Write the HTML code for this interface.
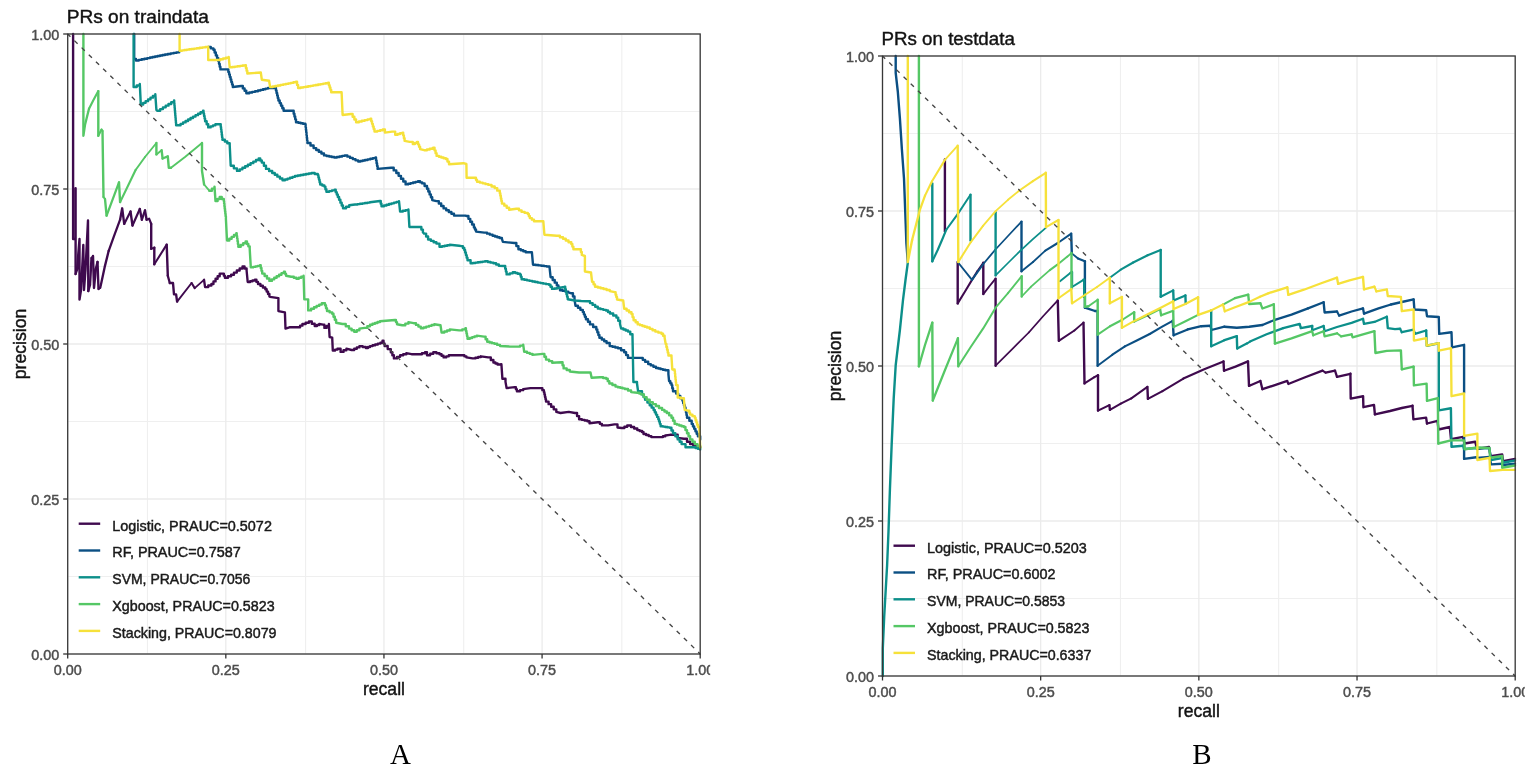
<!DOCTYPE html>
<html><head><meta charset="utf-8"><title>PR curves</title>
<style>
html,body{margin:0;padding:0;background:#fff;}
body{width:1535px;height:772px;overflow:hidden;}
svg{display:block;}
.gm{stroke:#efefef;stroke-width:1.1;}
.gM{stroke:#ebebeb;stroke-width:1.3;}
.cv{fill:none;stroke-linejoin:round;stroke-linecap:round;}
.dg{stroke:#454545;stroke-width:1.35;stroke-dasharray:4.4 5.64;stroke-dashoffset:0.6;}
.lk{stroke-width:2.4;}
.bd{fill:none;stroke:#383838;stroke-width:1.3;}
.tk{stroke:#333;stroke-width:1.3;}
text{font-family:"Liberation Sans",Arial,sans-serif;stroke-width:0.45px;}
.lt,.at,.ti{stroke:#1a1a1a;}
.xl,.yl{stroke:#4d4d4d;}
.pl{stroke:none;}
.lt{font-size:14.4px;fill:#1a1a1a;}
.xl{font-size:14.4px;fill:#4d4d4d;text-anchor:middle;}
.yl{font-size:14.4px;fill:#4d4d4d;text-anchor:end;}
.at{font-size:17.6px;fill:#111;text-anchor:middle;}
.ti{font-size:19.1px;fill:#111;}
.pl{font-family:"Liberation Serif","Times New Roman",serif;font-size:29px;fill:#000;text-anchor:middle;}
</style></head>
<body>
<svg width="1535" height="772" viewBox="0 0 1535 772">
<rect width="1535" height="772" fill="#fff"/>
<line x1="147.46" y1="34" x2="147.46" y2="654" class="gm"/>
<line x1="67.7" y1="576.5" x2="700.2" y2="576.5" class="gm"/>
<line x1="305.59" y1="34" x2="305.59" y2="654" class="gm"/>
<line x1="67.7" y1="421.5" x2="700.2" y2="421.5" class="gm"/>
<line x1="463.71" y1="34" x2="463.71" y2="654" class="gm"/>
<line x1="67.7" y1="266.5" x2="700.2" y2="266.5" class="gm"/>
<line x1="621.84" y1="34" x2="621.84" y2="654" class="gm"/>
<line x1="67.7" y1="111.5" x2="700.2" y2="111.5" class="gm"/>
<line x1="67.7" y1="34" x2="67.7" y2="654" class="gM"/>
<line x1="67.7" y1="654" x2="700.2" y2="654" class="gM"/>
<line x1="225.82" y1="34" x2="225.82" y2="654" class="gM"/>
<line x1="67.7" y1="499" x2="700.2" y2="499" class="gM"/>
<line x1="383.95" y1="34" x2="383.95" y2="654" class="gM"/>
<line x1="67.7" y1="344" x2="700.2" y2="344" class="gM"/>
<line x1="542.08" y1="34" x2="542.08" y2="654" class="gM"/>
<line x1="67.7" y1="189" x2="700.2" y2="189" class="gM"/>
<line x1="700.2" y1="34" x2="700.2" y2="654" class="gM"/>
<line x1="67.7" y1="34" x2="700.2" y2="34" class="gM"/>
<g stroke="#3f0a4e" class="cv">
<polyline points="73.1,34 73.1,239 75.6,239 75.6,188.3 75.6,274" stroke-width="2.40"/>
<polyline points="75.6,274 77,270" stroke-width="2.27"/>
<polyline points="77,270 79.5,239 79.5,299.5 81,290 82.5,262 83.3,245 84,290 85.5,270 88,220.5 88.3,291" stroke-width="2.39"/>
<polyline points="88.3,291 90,285" stroke-width="2.31"/>
<polyline points="90,285 91.5,258" stroke-width="2.40"/>
<polyline points="91.5,258 93,256" stroke-width="1.92"/>
<polyline points="93,256 94,288 96,268" stroke-width="2.40"/>
<polyline points="96,268 97.5,262" stroke-width="2.33"/>
<polyline points="97.5,262 98.5,289" stroke-width="2.40"/>
<polyline points="98.5,289 100.2,287.7" stroke-width="1.91"/>
<polyline points="100.2,287.7 101.5,281.9 104.6,267.4 108.7,250.8" stroke-width="2.34"/>
<polyline points="108.7,250.8 113.9,236.3 120.1,219.7" stroke-width="2.26"/>
<polyline points="120.1,219.7 122.2,208.3 124.2,223.9" stroke-width="2.36"/>
<polyline points="124.2,223.9 130.5,211.5" stroke-width="2.14"/>
<polyline points="130.5,211.5 132.5,225.5" stroke-width="2.38"/>
<polyline points="132.5,225.5 139.8,209" stroke-width="2.19"/>
<polyline points="139.8,209 141.9,219.7" stroke-width="2.36"/>
<polyline points="141.9,219.7 145,210.4" stroke-width="2.28"/>
<polyline points="145,210.4 146.6,219.7" stroke-width="2.37"/>
<polyline points="146.6,219.7 149.1,218.7 151.2,223.9" stroke-width="2.23"/>
<polyline points="151.2,223.9 151.2,248.8" stroke-width="2.40"/>
<polyline points="151.2,248.8 154.3,247.7" stroke-width="2.26"/>
<polyline points="154.3,247.7 154.3,264.3" stroke-width="2.40"/>
<polyline points="154.3,264.3 166.7,244.6" stroke-width="2.03"/>
<polyline points="166.7,244.6 167.8,275.7" stroke-width="2.40"/>
<polyline points="167.8,275.7 169.8,283" stroke-width="2.31"/>
<polyline points="169.8,283 173,283 174,294.4 176.1,294.4 177.1,301.6" stroke-width="2.40"/>
<polyline points="177.1,301.6 191.6,283" stroke-width="1.89"/>
<polyline points="191.6,283 194.7,288.1" stroke-width="2.05"/>
<polyline points="194.7,288.1 204,279.8" stroke-width="1.79"/>
<polyline points="204,279.8 205.1,287.1 208.25,287.1 208.25,285.55 211.4,285.55 211.4,284 213.47,284 213.47,281.4 215.55,281.4 215.55,278.8 217.62,278.8 217.62,276.2 219.7,276.2 219.7,273.6 222.8,273.6 223.85,273.6 223.85,275.65 224.9,275.65 224.9,277.7 228,277.7 228,276.2 231.1,276.2 231.1,274.7 233.95,274.7 233.95,272.62 236.8,272.62 236.8,270.55 239.65,270.55 239.65,268.48 242.5,268.48 242.5,266.4 244.55,266.4 244.55,268.45 246.6,268.45 246.6,270.5 247.7,282 250.1,282 250.1,281.27 252.5,281.27 252.5,280.53 254.9,280.53 254.9,279.8 256.45,279.8 256.45,281.9 258,281.9 258,284 260.43,284 260.43,285.73 262.87,285.73 262.87,287.47 265.3,287.47 265.3,289.2 266.67,289.2 266.67,291.6 268.03,291.6 268.03,294 269.4,294 269.4,296.4 270,296.8 278.4,298.1 278.4,311.1 284.9,312.4 285.5,328.6 289.4,327.3 297.8,327.3 300.1,327.3 300.1,325.65 302.4,325.65 302.4,324 305.65,324 305.65,322.75 308.9,322.75 308.9,321.5 311.8,321.5 311.8,323.75 314.7,323.75 314.7,326 316.95,326 316.95,325 319.2,325 319.2,324 323.1,324.7 324.4,324.7 324.4,327.9 326.65,327.9 326.65,325.95 328.9,325.95 328.9,324 329.6,337 332.2,337.6 332.8,350.6 335.1,350.6 335.1,349.65 337.4,349.65 337.4,348.7 340.6,348.7 340.6,351.9 343.5,351.9 343.5,350.3 346.4,350.3 346.4,348.7 351.6,350 354.2,350 354.2,348.7 356.8,348.7 356.8,347.4 359.4,347.4 359.4,346.1 362.65,346.1 362.65,347.05 365.9,347.05 365.9,348 367.95,348 367.95,347.05 370,347.05 370,346.1 372.6,346.1 372.6,345.28 375.2,345.28 375.2,344.45 377.8,344.45 377.8,343.63 380.4,343.63 380.4,342.8 382.5,342.8 382.5,340.8 383.55,340.8 383.55,343.4 384.6,343.4 384.6,346 387.7,346 387.7,349.1 390.8,349.1 390.8,352.2 392.35,352.2 392.35,355.3 393.9,355.3 393.9,358.4 397,358.4 397,356.85 400.1,356.85 400.1,355.3 403.2,355.3 403.2,354.25 406.3,354.25 406.3,353.2 411.5,354.2 418.8,354.2 421.9,354.2 421.9,353.2 425,353.2 425,352.2 427,352.2 427,355.3 430.15,355.3 430.15,353.75 433.3,353.75 433.3,352.2 436.4,352.2 436.4,353.2 439.5,353.2 439.5,354.2 441.55,354.2 441.55,355.8 443.6,355.8 443.6,357.4 446.2,357.4 446.2,356.35 448.8,356.35 448.8,355.3 462.3,355.3 464.35,355.3 464.35,356.35 466.4,356.35 466.4,357.4 472.6,358.4 475.37,358.4 475.37,357.7 478.13,357.7 478.13,357 480.9,357 480.9,356.3 488.2,357.4 490.8,357.4 490.8,359.95 493.4,359.95 493.4,362.5 495.45,362.5 495.45,363.55 497.5,363.55 497.5,364.6 501.4,364.2 502.4,378.8 505.5,378.8 505.5,381.9 506.6,388.1 514.9,387.1 515.9,387.1 515.9,389.15 516.9,389.15 516.9,391.2 520.05,391.2 520.05,390.15 523.2,390.15 523.2,389.1 530.4,388.1 540.8,388.1 542.35,388.1 542.35,390.15 543.9,390.15 543.9,392.2 544.42,392.2 544.42,394.55 544.95,394.55 544.95,396.9 545.47,396.9 545.47,399.25 546,399.25 546,401.6 548.58,401.6 548.58,404.18 551.15,404.18 551.15,406.75 553.73,406.75 553.73,409.32 556.3,409.32 556.3,411.9 560.5,413 568.8,411.9 575,413 577.05,413 577.05,416.1 579.1,416.1 579.1,419.2 581.87,419.2 581.87,419.87 584.63,419.87 584.63,420.53 587.4,420.53 587.4,421.2 589.5,421.2 589.5,423.3 597.8,422.3 599.85,422.3 599.85,423.85 601.9,423.85 601.9,425.4 608.1,425.4 614.4,424.4 617.5,424.4 617.5,427.5 621.6,428 624.4,428 624.4,426.75 627.2,426.75 627.2,425.5 631,425.5 631,427 634.15,427 634.15,428.55 637.3,428.55 637.3,430.1 639.65,430.1 639.65,431.05 642,431.05 642,432 643.5,432 643.5,434 646.1,434 646.1,435.03 648.7,435.03 648.7,436.07 651.3,436.07 651.3,437.1 660.6,437.1 662.95,437.1 662.95,436.3 665.3,436.3 665.3,435.5 669.9,434.8 674.6,434.8 677.7,434.8 677.7,437.9 683.9,438.7 687,438.7 687,441.8 690.1,441.8 690.1,444.1 693.2,444.1 693.2,445.25 696.3,445.25 696.3,446.4 700.2,447.2" stroke-width="2.37"/>
</g>
<g stroke="#0b4f83" class="cv">
<polyline points="134.2,34 134.2,59 136,59 136,60.5 138.8,60.5 138.8,59.9 141.6,59.9 141.6,59.3 144.4,59.3 144.4,58.7 147.2,58.7 147.2,58.1 150,58.1 150,57.5 152.5,57.5 152.5,57 155,57 155,56.5 157.5,56.5 157.5,56 160,56 160,55.5 162.5,55.5 162.5,55 165,55 165,54.5 167.84,54.5 167.84,53.96 170.68,53.96 170.68,53.42 173.52,53.42 173.52,52.88 176.36,52.88 176.36,52.34 179.2,52.34 179.2,51.8" stroke-width="2.40"/>
<polyline points="208.2,47 210.8,47 210.8,48.35 213.4,48.35 213.4,49.7 214.62,49.7 214.62,52.55 215.85,52.55 215.85,55.4 217.07,55.4 217.07,58.25 218.3,58.25 218.3,61.1 219,61.1 219,63.87 219.7,63.87 219.7,66.63 220.4,66.63 220.4,69.4 227.6,69.4 228.34,69.4 228.34,71.91 229.09,71.91 229.09,74.43 229.83,74.43 229.83,76.94 230.57,76.94 230.57,79.46 231.31,79.46 231.31,81.97 232.06,81.97 232.06,84.49 232.8,84.49 232.8,87 241.1,86 242.83,86 242.83,88.4 244.57,88.4 244.57,90.8 246.3,90.8 246.3,93.2 249.23,93.2 249.23,92.53 252.15,92.53 252.15,91.85 255.08,91.85 255.08,91.18 258,91.18 258,90.5 260.5,90.5 260.5,89.88 263,89.88 263,89.25 265.5,89.25 265.5,88.62 268,88.62 268,88 275.3,88 275.92,88 275.92,90.5 276.54,90.5 276.54,93 277.16,93 277.16,95.5 277.78,95.5 277.78,98 278.4,98 278.4,100.5 279.7,100.5 279.7,103.08 281,103.08 281,105.65 282.3,105.65 282.3,108.23 283.6,108.23 283.6,110.8 292.9,110.8 293.67,110.8 293.67,113.65 294.45,113.65 294.45,116.5 295.22,116.5 295.22,119.35 296,119.35 296,122.2 298.32,122.2 298.32,122.72 300.65,122.72 300.65,123.25 302.97,123.25 302.97,123.78 305.3,123.78 305.3,124.3 305.6,124.3 305.6,126.97 305.9,126.97 305.9,129.64 306.2,129.64 306.2,132.31 306.5,132.31 306.5,134.99 306.8,134.99 306.8,137.66 307.1,137.66 307.1,140.33 307.4,140.33 307.4,143 310.5,143 310.5,145.55 313.6,145.55 313.6,148.1 316.2,148.1 316.2,149.93 318.8,149.93 318.8,151.75 321.4,151.75 321.4,153.57 324,153.57 324,155.4 326.57,155.4 326.57,155.93 329.15,155.93 329.15,156.45 331.72,156.45 331.72,156.98 334.3,156.98 334.3,157.5 336.9,157.5 336.9,156.97 339.5,156.97 339.5,156.45 342.1,156.45 342.1,155.92 344.7,155.92 344.7,155.4 347.4,155.4 347.4,156.64 350.1,156.64 350.1,157.88 352.8,157.88 352.8,159.12 355.5,159.12 355.5,160.36 358.2,160.36 358.2,161.6 360.47,161.6 360.47,161.07 362.73,161.07 362.73,160.53 365,160.53 365,160 367.62,160 367.62,159.38 370.25,159.38 370.25,158.75 372.88,158.75 372.88,158.12 375.5,158.12 375.5,157.5 376.02,157.5 376.02,160.35 376.55,160.35 376.55,163.2 377.07,163.2 377.07,166.05 377.6,166.05 377.6,168.9 391.1,167.8 393.7,167.8 393.7,170.4 396.3,170.4 396.3,173 398.62,173 398.62,175.85 400.95,175.85 400.95,178.7 403.27,178.7 403.27,181.55 405.6,181.55 405.6,184.4 408.08,184.4 408.08,183.78 410.56,183.78 410.56,183.16 413.04,183.16 413.04,182.54 415.52,182.54 415.52,181.92 418,181.92 418,181.3 420.1,181.3 420.1,182.35 422.2,182.35 422.2,183.4 424.6,183.4 424.6,186.05 427,186.05 427,188.7 428.3,188.7 428.3,191.55 429.6,191.55 429.6,194.4 430.9,194.4 430.9,197.25 432.2,197.25 432.2,200.1 436.4,201.1 438.8,201.1 438.8,203.53 441.2,203.53 441.2,205.97 443.6,205.97 443.6,208.4 446.2,208.4 446.2,210.2 448.8,210.2 448.8,212 451.4,212 451.4,213.8 454,213.8 454,215.6 465.4,215.6 466.6,216 468.43,216 468.43,218.85 470.25,218.85 470.25,221.7 472.07,221.7 472.07,224.55 473.9,224.55 473.9,227.4 474.95,227.4 474.95,229.5 476,229.5 476,231.6 484.3,232.6 487.07,232.6 487.07,233.63 489.83,233.63 489.83,234.67 492.6,234.67 492.6,235.7 494.93,235.7 494.93,236.47 497.25,236.47 497.25,237.25 499.57,237.25 499.57,238.03 501.9,238.03 501.9,238.8 502.9,241.9 514.3,243 516.35,243 516.35,246.1 518.4,246.1 518.4,249.2 520.83,249.2 520.83,250.23 523.27,250.23 523.27,251.27 525.7,251.27 525.7,252.3 531.9,252.3 533,264.7 535.75,264.7 535.75,265.05 538.5,265.05 538.5,265.4 541.25,265.4 541.25,265.75 544,265.75 544,266.1 546.75,266.1 546.75,266.45 549.5,266.45 549.5,266.8 550.6,277.2 552.67,277.2 552.67,279.93 554.73,279.93 554.73,282.67 556.8,282.67 556.8,285.4 558.4,285.4 558.4,287.8 560,287.8 560,290.2 562.77,290.2 562.77,290.9 565.53,290.9 565.53,291.6 568.3,291.6 568.3,292.3 571.4,293.3 572.95,293.3 572.95,296.4 574.5,296.4 574.5,299.5 575.5,305.7 577.93,305.7 577.93,307.77 580.37,307.77 580.37,309.83 582.8,309.83 582.8,311.9 583.83,311.9 583.83,314.33 584.87,314.33 584.87,316.77 585.9,316.77 585.9,319.2 587.95,319.2 587.95,321.8 590,321.8 590,324.4 593.15,324.4 593.15,326.95 596.3,326.95 596.3,329.5 597.33,329.5 597.33,332.27 598.37,332.27 598.37,335.03 599.4,335.03 599.4,337.8 601.8,337.8 601.8,339.53 604.2,339.53 604.2,341.27 606.6,341.27 606.6,343 609.7,343 609.7,346.1 612.47,346.1 612.47,346.8 615.23,346.8 615.23,347.5 618,347.5 618,348.2 621.1,348.2 621.1,350.25 624.2,350.25 624.2,352.3 626.1,352.3 626.1,355.1 628,355.1 628,357.9 640.4,357.9 642.75,357.9 642.75,359.85 645.1,359.85 645.1,361.8 648.2,361.8 648.2,364.1 650.8,364.1 650.8,365.4 653.4,365.4 653.4,366.7 656,366.7 656,368 658.33,368 658.33,368.57 660.65,368.57 660.65,369.15 662.98,369.15 662.98,369.72 665.3,369.72 665.3,370.3 668.4,370.3 668.4,374.2 669.1,381.2 670.3,381.2 670.3,383.15 671.5,383.15 671.5,385.1 672.25,385.1 672.25,388.2 673,388.2 673,391.3 676.1,391.3 676.1,393.6 678.2,393.6 678.2,395.93 680.3,395.93 680.3,398.27 682.4,398.27 682.4,400.6 683.17,400.6 683.17,402.93 683.95,402.93 683.95,405.25 684.72,405.25 684.72,407.57 685.5,407.57 685.5,409.9 686,409.9 686,412.5 686.5,412.5 686.5,415.1 687,415.1 687,417.7 689.35,417.7 689.35,420.8 691.7,420.8 691.7,423.9 692.94,423.9 692.94,426.38 694.18,426.38 694.18,428.86 695.42,428.86 695.42,431.34 696.66,431.34 696.66,433.82 697.9,433.82 697.9,436.3 700.2,436.3 700.2,439.4" stroke-width="2.40"/>
</g>
<g stroke="#0c8f8a" class="cv">
<polyline points="133.6,34 133.6,87 136.7,87 136.7,85.45 139.8,85.45 139.8,83.9 140.8,104.6 143.22,104.6 143.22,102.87 145.63,102.87 145.63,101.13 148.05,101.13 148.05,99.4 150.47,99.4 150.47,97.67 152.88,97.67 152.88,95.93 155.3,95.93 155.3,94.2 156.4,109.8 157.4,110.8 160.17,110.8 160.17,109.08 162.93,109.08 162.93,107.37 165.7,107.37 165.7,105.65 168.47,105.65 168.47,103.93 171.23,103.93 171.23,102.22 174,102.22 174,100.5 174.21,100.5 174.21,102.98 174.42,102.98 174.42,105.46 174.63,105.46 174.63,107.94 174.84,107.94 174.84,110.42 175.05,110.42 175.05,112.9 175.26,112.9 175.26,115.38 175.47,115.38 175.47,117.86 175.68,117.86 175.68,120.34 175.89,120.34 175.89,122.82 176.1,122.82 176.1,125.3 178.1,125.3 180.59,125.3 180.59,123.85 183.08,123.85 183.08,122.4 185.57,122.4 185.57,120.95 188.06,120.95 188.06,119.5 190.55,119.5 190.55,118.05 193.04,118.05 193.04,116.6 195.53,116.6 195.53,115.15 198.02,115.15 198.02,113.7 200.51,113.7 200.51,112.25 203,112.25 203,110.8 203.53,110.8 203.53,113.4 204.05,113.4 204.05,116 204.58,116 204.58,118.6 205.1,118.6 205.1,121.2 206.65,121.2 206.65,124.3 208.2,124.3 208.2,127.4 210.6,127.4 210.6,126.37 213,126.37 213,125.33 215.4,125.33 215.4,124.3 220.4,124.3 220.73,124.3 220.73,126.88 221.07,126.88 221.07,129.47 221.4,129.47 221.4,132.05 221.73,132.05 221.73,134.63 222.07,134.63 222.07,137.22 222.4,137.22 222.4,139.8 224.83,139.8 224.83,141.53 227.27,141.53 227.27,143.27 229.7,143.27 229.7,145 230.7,165.8 233.85,165.8 233.85,168.35 237,168.35 237,170.9 239.71,170.9 239.71,169.35 242.43,169.35 242.43,167.8 245.14,167.8 245.14,166.25 247.85,166.25 247.85,164.7 250.56,164.7 250.56,163.15 253.28,163.15 253.28,161.6 255.99,161.6 255.99,160.05 258.7,160.05 258.7,158.5 260.25,158.5 260.25,160.55 261.8,160.55 261.8,162.6 263.9,162.6 263.9,165.75 266,165.75 266,168.9 269.1,168.9 269.1,170.95 272.2,170.95 272.2,173 274.77,173 274.77,174.82 277.35,174.82 277.35,176.65 279.92,176.65 279.92,178.47 282.5,178.47 282.5,180.3 285,180.3 285,179.44 287.5,179.44 287.5,178.58 290,178.58 290,177.72 292.5,177.72 292.5,176.86 295,176.86 295,176 297.77,176 297.77,175.5 300.53,175.5 300.53,175 303.3,175 303.3,174.5 306.07,174.5 306.07,174 308.83,174 308.83,173.5 311.6,173.5 311.6,173 314.7,173 314.7,174.05 317.8,174.05 317.8,175.1 318.4,175.1 318.4,177.45 319,177.45 319,179.8 319.6,179.8 319.6,182.15 320.2,182.15 320.2,184.5 322.3,184.5 322.3,185.55 324.4,185.55 324.4,186.6 325.4,186.6 325.4,189.2 326.4,189.2 326.4,191.8 329.17,191.8 329.17,191.1 331.93,191.1 331.93,190.4 334.7,190.4 334.7,189.7 335.73,189.7 335.73,192.13 336.77,192.13 336.77,194.57 337.8,194.57 337.8,197 339.1,197 339.1,199.82 340.4,199.82 340.4,202.65 341.7,202.65 341.7,205.47 343,205.47 343,208.3 346.1,208.3 346.1,206.75 349.2,206.75 349.2,205.2 355,204.5 357.5,204.5 357.5,204.12 360,204.12 360,203.73 362.5,203.73 362.5,203.35 365,203.35 365,202.97 367.5,202.97 367.5,202.58 370,202.58 370,202.2 380,201 380.75,201 380.75,203.65 381.5,203.65 381.5,206.3 384,206.3 384,205.56 386.5,205.56 386.5,204.81 389,204.81 389,204.07 391.5,204.07 391.5,203.33 394,203.33 394,202.59 396.5,202.59 396.5,201.84 399,201.84 399,201.1 400.1,211.5 402.87,211.5 402.87,210.8 405.63,210.8 405.63,210.1 408.4,210.1 408.4,209.4 409.4,227 419.8,227 421.35,227 421.35,229.6 422.9,229.6 422.9,232.2 424.1,233.6 426.1,233.6 426.1,236.55 428.1,236.55 428.1,239.5 430.87,239.5 430.87,240.87 433.63,240.87 433.63,242.23 436.4,242.23 436.4,243.6 439.5,243.6 439.5,246.7 442.07,246.7 442.07,246.2 444.65,246.2 444.65,245.7 447.22,245.7 447.22,245.2 449.8,245.2 449.8,244.7 459.2,245.7 461.5,246.1 462.9,246.1 462.9,248.05 464.3,248.05 464.3,250 465.1,250 465.1,252.55 465.9,252.55 465.9,255.1 466.7,255.1 466.7,257.65 467.5,257.65 467.5,260.2 470.6,260.2 470.6,263.3 473,263.3 473,262.97 475.4,262.97 475.4,262.63 477.8,262.63 477.8,262.3 480.2,262.3 480.2,261.97 482.6,261.97 482.6,261.63 485,261.63 485,261.3 487.8,261.3 487.8,261.97 490.6,261.97 490.6,262.63 493.4,262.63 493.4,263.3 496.1,263.3 496.1,264.55 498.8,264.55 498.8,265.8 504.5,266 505.2,266 505.2,268.8 505.9,268.8 505.9,271.6 506.6,271.6 506.6,274.4 509.7,274.4 509.7,273.35 512.8,273.35 512.8,272.3 515.2,272.3 515.2,273 517.6,273 517.6,273.7 520,273.7 520,274.4 520.8,274.4 520.8,276.8 521.6,276.8 521.6,279.2 524.28,279.2 524.28,279.77 526.97,279.77 526.97,280.33 529.65,280.33 529.65,280.9 532.33,280.9 532.33,281.47 535.02,281.47 535.02,282.03 537.7,282.03 537.7,282.6 540.53,282.6 540.53,283.12 543.35,283.12 543.35,283.65 546.18,283.65 546.18,284.17 549,284.17 549,284.7 550.5,284.7 550.5,286.8 552,286.8 552,288.9 554.52,288.9 554.52,288.48 557.04,288.48 557.04,288.06 559.56,288.06 559.56,287.64 562.08,287.64 562.08,287.22 564.6,287.22 564.6,286.8 565.22,286.8 565.22,289.28 565.84,289.28 565.84,291.76 566.46,291.76 566.46,294.24 567.08,294.24 567.08,296.72 567.7,296.72 567.7,299.2 575,300.5 581.2,301 587.4,301.3 590,301.3 590,303.1 592.6,303.1 592.6,304.9 595.2,304.9 595.2,306.7 597.8,306.7 597.8,308.5 600.53,308.5 600.53,309.17 603.27,309.17 603.27,309.83 606,309.83 606,310.5 608,310.5 608,312 610,312 610,313.5 613.2,313.5 613.2,315.55 616.4,315.55 616.4,317.6 618.2,317.6 618.2,320.8 620,320.8 620,324 621.1,328.5 623.4,328.5 623.4,329.53 625.7,329.53 625.7,330.57 628,330.57 628,331.6 630.25,331.6 630.25,334.2 632.5,334.2 632.5,336.8 633.4,382 637,382 637,383.5 638.1,391.3 642,391.3 642,394.4 643.55,394.4 643.55,397.1 645.1,397.1 645.1,399.8 647.4,399.8 647.4,402.55 649.7,402.55 649.7,405.3 651.65,405.3 651.65,407.65 653.6,407.65 653.6,410 654.77,410 654.77,412.3 655.95,412.3 655.95,414.6 657.12,414.6 657.12,416.9 658.3,416.9 658.3,419.2 659.07,419.2 659.07,421.53 659.83,421.53 659.83,423.87 660.6,423.87 660.6,426.2 662.92,426.2 662.92,426.6 665.25,426.6 665.25,427 667.58,427 667.58,427.4 669.9,427.4 669.9,427.8 671.45,427.8 671.45,430.5 673,430.5 673,433.2 675.35,433.2 675.35,436.3 677.7,436.3 677.7,439.4 679.65,439.4 679.65,441.75 681.6,441.75 681.6,444.1 685.5,444.1 685.5,447.2 693.2,447.2 695.53,447.2 695.53,447.97 697.87,447.97 697.87,448.73 700.2,448.73 700.2,449.5" stroke-width="2.40"/>
</g>
<g stroke="#55c765" class="cv">
<polyline points="83.4,34 83.4,135.7 84.9,125.3" stroke-width="2.40"/>
<polyline points="84.9,125.3 89,108.8" stroke-width="2.33"/>
<polyline points="89,108.8 93.2,100.5 98.3,91.1" stroke-width="2.14"/>
<polyline points="98.3,91.1 98.3,135.7" stroke-width="2.40"/>
<polyline points="98.3,135.7 101.5,129.5" stroke-width="2.13"/>
<polyline points="101.5,129.5 102.5,131" stroke-width="2.00"/>
<polyline points="102.5,131 103.5,197" stroke-width="2.40"/>
<polyline points="103.5,197 105,199" stroke-width="1.92"/>
<polyline points="105,199 106.6,215.6" stroke-width="2.39"/>
<polyline points="106.6,215.6 119,182.4" stroke-width="2.25"/>
<polyline points="119,182.4 120.1,202.1" stroke-width="2.40"/>
<polyline points="120.1,202.1 135.6,170" stroke-width="2.16"/>
<polyline points="135.6,170 145,157" stroke-width="1.94"/>
<polyline points="145,157 156.4,143" stroke-width="1.86"/>
<polyline points="156.4,143 156.4,154.4" stroke-width="2.40"/>
<polyline points="156.4,154.4 161.6,150.2" stroke-width="1.87"/>
<polyline points="161.6,150.2 162.6,158.5" stroke-width="2.38"/>
<polyline points="162.6,158.5 167.8,156.4" stroke-width="2.23"/>
<polyline points="167.8,156.4 168.8,167.8 171,167.8" stroke-width="2.39"/>
<polyline points="171,167.8 185,157 202,143" stroke-width="1.90"/>
<polyline points="202,143 202,170.9 204.1,184.5" stroke-width="2.40"/>
<polyline points="204.1,184.5 209.3,190.7" stroke-width="1.84"/>
<polyline points="209.3,190.7 211.9,190.7 211.9,188.65 214.5,188.65 214.5,186.6 215.5,201.1 217.6,201.1 217.6,199.05 219.7,199.05 219.7,197 221.75,197 221.75,199.05 223.8,199.05 223.8,201.1 224.1,201.1 224.1,203.61 224.4,203.61 224.4,206.13 224.7,206.13 224.7,208.64 225,208.64 225,211.16 225.3,211.16 225.3,213.67 225.6,213.67 225.6,216.19 225.9,216.19 225.9,218.7 227,240.5 229.32,240.5 229.32,238.68 231.65,238.68 231.65,236.85 233.97,236.85 233.97,235.03 236.3,235.03 236.3,233.2 236.7,233.2 236.7,235.9 237.1,235.9 237.1,238.6 237.5,238.6 237.5,241.3 237.9,241.3 237.9,244 238.3,244 238.3,246.7 240.73,246.7 240.73,244.97 243.17,244.97 243.17,243.23 245.6,243.23 245.6,241.5 246.97,241.5 246.97,243.93 248.33,243.93 248.33,246.37 249.7,246.37 249.7,248.8 250.8,267.4 253.1,267.4 253.1,266.88 255.4,266.88 255.4,266.35 257.7,266.35 257.7,265.83 260,265.83 260,265.3 260.73,265.3 260.73,268.07 261.47,268.07 261.47,270.83 262.2,270.83 262.2,273.6 264.6,273.6 264.6,276.03 267,276.03 267,278.47 269.4,278.47 269.4,280.9 271.82,280.9 271.82,279.35 274.23,279.35 274.23,277.8 276.65,277.8 276.65,276.25 279.07,276.25 279.07,274.7 281.48,274.7 281.48,273.15 283.9,273.15 283.9,271.6 284.95,271.6 284.95,273.65 286,273.65 286,275.7 291.2,276.7 293.8,276.7 293.8,277.75 296.4,277.75 296.4,278.8 298.8,278.8 298.8,277.77 301.2,277.77 301.2,276.73 303.6,276.73 303.6,275.7 304.3,299.4 308.2,299.4 308.2,310.4 311.1,310.4 311.1,308.8 314,308.8 314,307.2 316.6,307.2 316.6,305.9 319.2,305.9 319.2,304.6 321.8,304.6 321.8,303.3 325,303.3 325,305.3 326,305.3 326,308.15 327,308.15 327,311 329.6,311 329.6,312.35 332.2,312.35 332.2,313.7 333.5,313.7 333.5,316.7 334.8,316.7 334.8,319.7 336.1,319.7 336.1,322.7 342.5,324 345.75,324 345.75,326.3 349,326.3 349,328.6 351.6,328.6 351.6,330.2 354.2,330.2 354.2,331.8 356.8,331.8 356.8,330.2 359.4,330.2 359.4,328.6 364.6,327.9 367.3,327.9 367.3,326.3 370,326.3 370,324.7 372.5,324.7 372.5,323.82 375,323.82 375,322.95 377.5,322.95 377.5,322.07 380,322.07 380,321.2 394.9,320 395.95,320 395.95,322.1 397,322.1 397,324.2 402.2,325.2 405.3,325.2 405.3,323.65 408.4,323.65 408.4,322.1 413.6,323.2 416,323.2 416,324.9 418.4,324.9 418.4,326.6 420.8,326.6 420.8,328.3 423.5,328.3 423.5,327.48 426.2,327.48 426.2,326.66 428.9,326.66 428.9,325.84 431.6,325.84 431.6,325.02 434.3,325.02 434.3,324.2 440.5,325.2 441.6,332.5 444.33,332.5 444.33,331.47 447.07,331.47 447.07,330.43 449.8,330.43 449.8,329.4 459.2,330.4 462.3,330.4 462.3,329.35 465.4,329.35 465.4,328.3 465.92,328.3 465.92,330.9 466.45,330.9 466.45,333.5 466.97,333.5 466.97,336.1 467.5,336.1 467.5,338.7 469.82,338.7 469.82,337.93 472.15,337.93 472.15,337.15 474.47,337.15 474.47,336.38 476.8,336.38 476.8,335.6 484,336.6 485.6,336.6 485.6,339.2 487.2,339.2 487.2,341.8 489.6,341.8 489.6,342.47 492,342.47 492,343.13 494.4,343.13 494.4,343.8 497.2,343.8 497.2,344.9 500,344.9 500,346 510.4,346.6 516.9,346.6 520.05,346.6 520.05,345.6 523.2,345.6 523.2,344.6 524.2,351.8 526.97,351.8 526.97,352.83 529.73,352.83 529.73,353.87 532.5,353.87 532.5,354.9 542.8,353.9 544.4,353.9 544.4,356.75 546,356.75 546,359.6 549.1,359.6 549.1,361.15 552.2,361.15 552.2,362.7 561.5,362.2 562.55,362.2 562.55,365.3 563.6,365.3 563.6,368.4 566.7,368.4 566.7,369.95 569.8,369.95 569.8,371.5 579.1,372.5 590.5,372.5 591.6,377.7 600,377.3 603.1,377.3 603.1,378.05 606.2,378.05 606.2,378.8 607.75,378.8 607.75,381.15 609.3,381.15 609.3,383.5 612.4,383.5 612.4,385.05 615.5,385.05 615.5,386.6 617.85,386.6 617.85,387.2 620.2,387.2 620.2,387.8 622.55,387.8 622.55,388.4 624.9,388.4 624.9,389 628,389 628,390.55 631.1,390.55 631.1,392.1 637.3,392.8 639.25,392.8 639.25,393.6 641.2,393.6 641.2,394.4 643.9,394.4 643.9,397.1 646.6,397.1 646.6,399.8 649.7,399.8 649.7,402.2 652.8,402.2 652.8,404.1 655.9,404.1 655.9,406 659,406 659,407.95 662.1,407.95 662.1,409.9 664.45,409.9 664.45,411.45 666.8,411.45 666.8,413 669.15,413 669.15,415.35 671.5,415.35 671.5,417.7 673.05,417.7 673.05,420.8 674.6,420.8 674.6,423.9 676.92,423.9 676.92,424.67 679.25,424.67 679.25,425.45 681.58,425.45 681.58,426.22 683.9,426.22 683.9,427 685.45,427 685.45,430.1 687,430.1 687,433.2 688.55,433.2 688.55,436.3 690.1,436.3 690.1,439.4 692.45,439.4 692.45,441.75 694.8,441.75 694.8,444.1 697.5,444.1 697.5,446.05 700.2,446.05 700.2,448" stroke-width="2.40"/>
</g>
<g stroke="#f6e13a" class="cv">
<polyline points="179.6,34 179.6,50.7 182,50.7 182,50.35 184.4,50.35 184.4,50 186.8,50 186.8,49.65 189.2,49.65 189.2,49.3 191.6,49.3 191.6,48.95 194,48.95 194,48.6 196.84,48.6 196.84,48.2 199.68,48.2 199.68,47.8 202.52,47.8 202.52,47.4 205.36,47.4 205.36,47 208.2,47 208.2,46.6 208.2,60 217.5,60 220.3,60 220.3,59.23 223.1,59.23 223.1,58.45 225.9,58.45 225.9,57.68 228.7,57.68 228.7,56.9 229.7,67.3 232.28,67.3 232.28,66.95 234.87,66.95 234.87,66.6 237.45,66.6 237.45,66.25 240.03,66.25 240.03,65.9 242.62,65.9 242.62,65.55 245.2,65.55 245.2,65.2 245.9,65.2 245.9,67.97 246.6,67.97 246.6,70.73 247.3,70.73 247.3,73.5 260.8,72.5 261.8,79.7 269.1,80.8 270.1,87 272.69,87 272.69,86.48 275.28,86.48 275.28,85.96 277.87,85.96 277.87,85.44 280.46,85.44 280.46,84.92 283.05,84.92 283.05,84.4 285.64,84.4 285.64,83.88 288.23,83.88 288.23,83.36 290.82,83.36 290.82,82.84 293.41,82.84 293.41,82.32 296,82.32 296,81.8 297.05,81.8 297.05,84.9 298.1,84.9 298.1,88 300.6,88 300.6,87.57 303.1,87.57 303.1,87.13 305.6,87.13 305.6,86.7 308.1,86.7 308.1,86.27 310.6,86.27 310.6,85.83 313.1,85.83 313.1,85.4 315.6,85.4 315.6,84.97 318.1,84.97 318.1,84.53 320.6,84.53 320.6,84.1 323.1,84.1 323.1,83.67 325.6,83.67 325.6,83.23 328.1,83.23 328.1,82.8 328.88,82.8 328.88,85.15 329.65,85.15 329.65,87.5 330.42,87.5 330.42,89.85 331.2,89.85 331.2,92.2 341.6,92.2 342.6,115 350.9,114 352.63,114 352.63,116.73 354.37,116.73 354.37,119.47 356.1,119.47 356.1,122.2 358.96,122.2 358.96,121.5 361.82,121.5 361.82,120.8 364.68,120.8 364.68,120.1 367.54,120.1 367.54,119.4 370.4,119.4 370.4,118.7 371.22,118.7 371.22,121.28 372.04,121.28 372.04,123.86 372.86,123.86 372.86,126.44 373.68,126.44 373.68,129.02 374.5,129.02 374.5,131.6 377.27,131.6 377.27,130.9 380.03,130.9 380.03,130.2 382.8,130.2 382.8,129.5 384.9,129.5 384.9,132.6 392.1,131.6 395.2,131.6 395.2,134.7 397.63,134.7 397.63,134 400.07,134 400.07,133.3 402.5,133.3 402.5,132.6 403.2,132.6 403.2,135.37 403.9,135.37 403.9,138.13 404.6,138.13 404.6,140.9 409.7,141.9 412.8,141.9 412.8,144 414.9,144 414.9,142.95 417,142.95 417,141.9 418.03,141.9 418.03,144.33 419.07,144.33 419.07,146.77 420.1,146.77 420.1,149.2 424.2,150.2 426.97,150.2 426.97,149.5 429.73,149.5 429.73,148.8 432.5,148.8 432.5,148.1 433.5,147.6 434.53,147.6 434.53,150.37 435.57,150.37 435.57,153.13 436.6,153.13 436.6,155.9 438.93,155.9 438.93,156.68 441.25,156.68 441.25,157.45 443.57,157.45 443.57,158.23 445.9,158.23 445.9,159 447.45,159 447.45,161.6 449,161.6 449,164.2 463.5,163.2 466.4,164 466.6,177.7 474.9,177.7 475.95,177.7 475.95,179.75 477,179.75 477,181.8 479.85,181.8 479.85,182.58 482.7,182.58 482.7,183.35 485.55,183.35 485.55,184.13 488.4,184.13 488.4,184.9 491.55,184.9 491.55,186.5 494.7,186.5 494.7,188.1 497.25,188.1 497.25,190.65 499.8,190.65 499.8,193.2 500.32,193.2 500.32,195.8 500.85,195.8 500.85,198.4 501.37,198.4 501.37,201 501.9,201 501.9,203.6 504.3,203.6 504.3,205.67 506.7,205.67 506.7,207.73 509.1,207.73 509.1,209.8 516.4,208.8 519,208.8 519,210.35 521.6,210.35 521.6,211.9 524.7,211.9 524.7,212.9 527.8,212.9 527.8,213.9 528.8,213.9 528.8,216 529.8,216 529.8,218.1 531.9,218.1 531.9,219.65 534,219.65 534,221.2 543.3,221.2 544.4,234.7 556.8,235.7 559.9,235.7 559.9,237.25 563,237.25 563,238.8 565.77,238.8 565.77,240.53 568.53,240.53 568.53,242.27 571.3,242.27 571.3,244 572.35,244 572.35,246.6 573.4,246.6 573.4,249.2 580,249.2 580.9,249.2 580.9,252.05 581.8,252.05 581.8,254.9 584.9,256 584.9,271.5 591,272.5 592.1,281.9 593.55,281.9 593.55,284.35 595,284.35 595,286.8 597.83,286.8 597.83,287.53 600.67,287.53 600.67,288.27 603.5,288.27 603.5,289 606.6,289 606.6,290.05 609.7,290.05 609.7,291.1 614.9,292.2 615.6,292.2 615.6,294.63 616.3,294.63 616.3,297.07 617,297.07 617,299.5 623.2,300.5 624.2,308.8 626.63,308.8 626.63,310.53 629.07,310.53 629.07,312.27 631.5,312.27 631.5,314 632.55,314 632.55,317.1 633.6,317.1 633.6,320.2 635.65,320.2 635.65,322.3 637.7,322.3 637.7,324.4 640.03,324.4 640.03,325.17 642.35,325.17 642.35,325.95 644.68,325.95 644.68,326.72 647,326.72 647,327.5 649.77,327.5 649.77,328.87 652.53,328.87 652.53,330.23 655.3,330.23 655.3,331.6 658.4,331.6 658.4,332.65 661.5,332.65 661.5,333.7 663.05,333.7 663.05,335.75 664.6,335.75 664.6,337.8 665.7,344 666.38,344 666.38,346.88 667.05,346.88 667.05,349.75 667.72,349.75 667.72,352.62 668.4,352.62 668.4,355.5 671.5,355.5 671.5,357 672.3,369.5 674.6,369.5 674.6,371 674.9,371 674.9,373.82 675.2,373.82 675.2,376.64 675.5,376.64 675.5,379.46 675.8,379.46 675.8,382.28 676.1,382.28 676.1,385.1 677.7,385.1 677.7,386.6 677.7,397.5 680.8,397.5 680.8,398.25 683.9,398.25 683.9,399 684.7,409.9 688.6,410.7 689.35,410.7 689.35,412.65 690.1,412.65 690.1,414.6 692.45,414.6 692.45,416.15 694.8,416.15 694.8,417.7 695.57,417.7 695.57,420.02 696.35,420.02 696.35,422.35 697.12,422.35 697.12,424.67 697.9,424.67 697.9,427 699.4,427 699.4,430.1 700.2,447.2" stroke-width="2.40"/>
</g>
<line x1="67.7" y1="34" x2="700.2" y2="654" class="dg"/>
<line x1="78.7" y1="523.7" x2="100.2" y2="523.7" stroke="#3f0a4e" class="lk"/>
<text x="112.3" y="530.6" class="lt">Logistic, PRAUC=0.5072</text>
<line x1="78.7" y1="550.5" x2="100.2" y2="550.5" stroke="#0b4f83" class="lk"/>
<text x="112.3" y="557.4" class="lt">RF, PRAUC=0.7587</text>
<line x1="78.7" y1="577.3" x2="100.2" y2="577.3" stroke="#0c8f8a" class="lk"/>
<text x="112.3" y="584.2" class="lt" textLength="138.0" lengthAdjust="spacingAndGlyphs">SVM, PRAUC=0.7056</text>
<line x1="78.7" y1="604.1" x2="100.2" y2="604.1" stroke="#55c765" class="lk"/>
<text x="112.3" y="611" class="lt" textLength="162.3" lengthAdjust="spacingAndGlyphs">Xgboost, PRAUC=0.5823</text>
<line x1="78.7" y1="630.9" x2="100.2" y2="630.9" stroke="#f6e13a" class="lk"/>
<text x="112.3" y="637.8" class="lt" textLength="164.2" lengthAdjust="spacingAndGlyphs">Stacking, PRAUC=0.8079</text>
<rect x="67.7" y="34" width="632.5" height="620" class="bd"/>
<line x1="67.7" y1="654" x2="67.7" y2="658.5" class="tk"/>
<line x1="63.2" y1="654" x2="67.7" y2="654" class="tk"/>
<text x="67.7" y="674.8" class="xl">0.00</text>
<text x="59.2" y="660.4" class="yl">0.00</text>
<line x1="225.82" y1="654" x2="225.82" y2="658.5" class="tk"/>
<line x1="63.2" y1="499" x2="67.7" y2="499" class="tk"/>
<text x="225.82" y="674.8" class="xl">0.25</text>
<text x="59.2" y="505.4" class="yl">0.25</text>
<line x1="383.95" y1="654" x2="383.95" y2="658.5" class="tk"/>
<line x1="63.2" y1="344" x2="67.7" y2="344" class="tk"/>
<text x="383.95" y="674.8" class="xl">0.50</text>
<text x="59.2" y="350.4" class="yl">0.50</text>
<line x1="542.08" y1="654" x2="542.08" y2="658.5" class="tk"/>
<line x1="63.2" y1="189" x2="67.7" y2="189" class="tk"/>
<text x="542.08" y="674.8" class="xl">0.75</text>
<text x="59.2" y="195.4" class="yl">0.75</text>
<line x1="700.2" y1="654" x2="700.2" y2="658.5" class="tk"/>
<line x1="63.2" y1="34" x2="67.7" y2="34" class="tk"/>
<text x="700.2" y="674.8" class="xl">1.00</text>
<text x="59.2" y="40.4" class="yl">1.00</text>
<text x="383.95" y="694.5" class="at">recall</text>
<text transform="translate(25.8,344) rotate(-90)" x="0" y="0" class="at">precision</text>
<text x="66.7" y="22.7" class="ti">PRs on traindata</text>
<text x="400.5" y="764" class="pl">A</text>
<line x1="962.29" y1="56" x2="962.29" y2="676" class="gm"/>
<line x1="882.5" y1="598.5" x2="1515.2" y2="598.5" class="gm"/>
<line x1="1120.46" y1="56" x2="1120.46" y2="676" class="gm"/>
<line x1="882.5" y1="443.5" x2="1515.2" y2="443.5" class="gm"/>
<line x1="1278.64" y1="56" x2="1278.64" y2="676" class="gm"/>
<line x1="882.5" y1="288.5" x2="1515.2" y2="288.5" class="gm"/>
<line x1="1436.81" y1="56" x2="1436.81" y2="676" class="gm"/>
<line x1="882.5" y1="133.5" x2="1515.2" y2="133.5" class="gm"/>
<line x1="882.5" y1="56" x2="882.5" y2="676" class="gM"/>
<line x1="882.5" y1="676" x2="1515.2" y2="676" class="gM"/>
<line x1="1040.67" y1="56" x2="1040.67" y2="676" class="gM"/>
<line x1="882.5" y1="521" x2="1515.2" y2="521" class="gM"/>
<line x1="1198.85" y1="56" x2="1198.85" y2="676" class="gM"/>
<line x1="882.5" y1="366" x2="1515.2" y2="366" class="gM"/>
<line x1="1357.03" y1="56" x2="1357.03" y2="676" class="gM"/>
<line x1="882.5" y1="211" x2="1515.2" y2="211" class="gM"/>
<line x1="1515.2" y1="56" x2="1515.2" y2="676" class="gM"/>
<line x1="882.5" y1="56" x2="1515.2" y2="56" class="gM"/>
<g stroke="#3f0a4e" class="cv">
<polyline points="944.9,159.5 944.9,231.2" stroke-width="2.40"/>
<polyline points="957.7,262 957.7,303.4" stroke-width="2.40"/>
<polyline points="957.7,303.4 965,291.5 972,279.9 977.5,271" stroke-width="2.05"/>
<polyline points="977.5,271 983.3,262.8" stroke-width="1.96"/>
<polyline points="983.3,262.8 983.3,294.1" stroke-width="2.40"/>
<polyline points="983.3,294.1 990,285.5 995.6,278.7" stroke-width="1.89"/>
<polyline points="995.6,278.7 995.6,365.7" stroke-width="2.40"/>
<polyline points="995.6,365.7 1012.2,349.1 1028.8,332.5" stroke-width="1.70"/>
<polyline points="1028.8,332.5 1043.3,316 1057.8,300.4" stroke-width="1.80"/>
<polyline points="1057.8,300.4 1058.8,340.8" stroke-width="2.40"/>
<polyline points="1058.8,340.8 1074.4,330.5" stroke-width="2.00"/>
<polyline points="1074.4,330.5 1083.5,322.6" stroke-width="1.81"/>
<polyline points="1083.5,322.6 1084.5,383.4" stroke-width="2.40"/>
<polyline points="1084.5,383.4 1094.4,377.1" stroke-width="2.02"/>
<polyline points="1094.4,377.1 1098,375.3" stroke-width="2.15"/>
<polyline points="1098,375.3 1098,410.6" stroke-width="2.40"/>
<polyline points="1098,410.6 1109.4,405.1" stroke-width="2.16"/>
<polyline points="1109.4,405.1 1109.9,409.8" stroke-width="2.39"/>
<polyline points="1109.9,409.8 1120.8,403.6" stroke-width="2.09"/>
<polyline points="1120.8,403.6 1131.3,398.4" stroke-width="2.15"/>
<polyline points="1131.3,398.4 1147.4,386.9" stroke-width="1.95"/>
<polyline points="1147.4,386.9 1147.9,398.9" stroke-width="2.40"/>
<polyline points="1147.9,398.9 1162.5,391.1" stroke-width="2.12"/>
<polyline points="1162.5,391.1 1183.4,378.6" stroke-width="2.06"/>
<polyline points="1183.4,378.6 1204.2,369.2 1223.5,361.4" stroke-width="2.19"/>
<polyline points="1223.5,361.4 1224,370.7" stroke-width="2.40"/>
<polyline points="1224,370.7 1235.5,366.6 1248,361.4" stroke-width="2.26"/>
<polyline points="1248,361.4 1249,385.9" stroke-width="2.40"/>
<polyline points="1249,385.9 1250,385.4" stroke-width="2.15"/>
<polyline points="1250,385.4 1260.4,380.9" stroke-width="2.20"/>
<polyline points="1260.4,380.9 1262.4,389.2" stroke-width="2.33"/>
<polyline points="1262.4,389.2 1274.9,385.1 1287.3,380.9 1288.3,384 1303.9,377.8 1322.5,370.6" stroke-width="2.28"/>
<polyline points="1322.5,370.6 1325.6,372.6" stroke-width="2.02"/>
<polyline points="1325.6,372.6 1335,370.6" stroke-width="2.35"/>
<polyline points="1335,370.6 1337,376.8" stroke-width="2.28"/>
<polyline points="1337,376.8 1350.4,373.8" stroke-width="2.34"/>
<polyline points="1350.4,373.8 1350.7,398.6 1363.1,396.3 1363.4,407.2 1374,404.9 1374.9,414.4" stroke-width="2.40"/>
<polyline points="1374.9,414.4 1390,411 1401.8,408 1412.5,405.8" stroke-width="2.34"/>
<polyline points="1412.5,405.8 1413.4,419.4 1426.1,417.6 1427,423.5" stroke-width="2.39"/>
<polyline points="1427,423.5 1437.5,420.8" stroke-width="2.32"/>
<polyline points="1437.5,420.8 1438.5,429.5 1449.8,427 1451,439.1 1463,436.9 1464.5,443.5 1475.2,441.8 1477,449 1489,447 1490.5,456.1 1502.2,454.5 1503,461.1 1515,458.9" stroke-width="2.38"/>
</g>
<g stroke="#0b4f83" class="cv">
<polyline points="895.7,56 895.7,72.8 897.8,91.5 899.9,118.4 901.9,149.5 904,178.5 905.7,224 906.4,243.5 907.8,262" stroke-width="2.40"/>
<polyline points="957.7,262 972,279.9" stroke-width="1.88"/>
<polyline points="972,279.9 983.3,264" stroke-width="1.96"/>
<polyline points="983.3,264 995,250" stroke-width="1.84"/>
<polyline points="995,250 1008,236 1021.5,221.6" stroke-width="1.76"/>
<polyline points="1021.5,221.6 1021.5,271.3" stroke-width="2.40"/>
<polyline points="1021.5,271.3 1033,262" stroke-width="1.87"/>
<polyline points="1033,262 1045.3,250.6" stroke-width="1.76"/>
<polyline points="1045.3,250.6 1057.8,243" stroke-width="2.05"/>
<polyline points="1057.8,243 1071.2,233.6" stroke-width="1.96"/>
<polyline points="1071.2,233.6 1071.8,253.4" stroke-width="2.40"/>
<polyline points="1071.8,253.4 1078,258.5" stroke-width="1.85"/>
<polyline points="1078,258.5 1084.9,261.3" stroke-width="2.22"/>
<polyline points="1084.9,261.3 1084.9,307.7" stroke-width="2.40"/>
<polyline points="1084.9,307.7 1095,311" stroke-width="2.28"/>
<polyline points="1095,311 1097.6,311 1097.6,365.7" stroke-width="2.40"/>
<polyline points="1097.6,365.7 1112.4,354.7" stroke-width="1.93"/>
<polyline points="1112.4,354.7 1124.9,346.4" stroke-width="2.00"/>
<polyline points="1124.9,346.4 1137.3,340.2 1149.7,334" stroke-width="2.15"/>
<polyline points="1149.7,334 1162.2,326.7 1172.7,320.8" stroke-width="2.07"/>
<polyline points="1172.7,320.8 1173.6,335.3" stroke-width="2.40"/>
<polyline points="1173.6,335.3 1187.7,329.4" stroke-width="2.21"/>
<polyline points="1187.7,329.4 1201.3,326.2" stroke-width="2.34"/>
<polyline points="1201.3,326.2 1210.3,325.8" stroke-width="2.40"/>
<polyline points="1210.3,325.8 1211.5,330 1224.4,326.7" stroke-width="2.31"/>
<polyline points="1224.4,326.7 1236.8,327.8 1249.2,326.7 1262.4,325" stroke-width="2.39"/>
<polyline points="1262.4,325 1274.9,319.8" stroke-width="2.22"/>
<polyline points="1274.9,319.8 1291.5,314.6 1308,308.4" stroke-width="2.29"/>
<polyline points="1308,308.4 1323.6,302.2" stroke-width="2.23"/>
<polyline points="1323.6,302.2 1324.6,312.5 1337,311.5" stroke-width="2.39"/>
<polyline points="1337,311.5 1339.1,315.6" stroke-width="2.14"/>
<polyline points="1339.1,315.6 1351.6,311.5 1363,308.4" stroke-width="2.28"/>
<polyline points="1363,308.4 1364,313.6" stroke-width="2.36"/>
<polyline points="1364,313.6 1378.5,308.4 1390.9,304.5" stroke-width="2.26"/>
<polyline points="1390.9,304.5 1401.8,302 1413.6,299.4" stroke-width="2.34"/>
<polyline points="1413.6,299.4 1414.4,309.5 1426.2,310.3 1427,316.2 1438.8,317 1439.2,333.9 1451.5,332.2 1452,347.4 1464.1,344.8 1464.1,392.8" stroke-width="2.39"/>
<polyline points="1464.1,435.8 1464.1,458.9 1476.3,457.2" stroke-width="2.40"/>
<polyline points="1476.3,457.2 1477,458" stroke-width="1.81"/>
<polyline points="1477,458 1489.5,457 1491.1,464.4 1502.2,463.8" stroke-width="2.39"/>
<polyline points="1502.2,463.8 1503,465" stroke-width="2.00"/>
<polyline points="1503,465 1515,463.8" stroke-width="2.39"/>
</g>
<g stroke="#0c8f8a" class="cv">
<polyline points="882.8,676 882.8,648.2 884.2,616.8 887.1,565.5 888.5,531.3 889.9,490 891.6,446.1 893.7,398.4 895.7,365.2 899.9,330 903,300 905.5,280 907.8,262.8" stroke-width="2.40"/>
<polyline points="932.3,183.4 932.3,261.3" stroke-width="2.40"/>
<polyline points="932.3,261.3 937.7,250 942,240 946.3,229.7" stroke-width="2.17"/>
<polyline points="946.3,229.7 952,221.9 957.7,214.1" stroke-width="1.94"/>
<polyline points="957.7,214.1 963.4,205.5 970.5,194.8" stroke-width="2.00"/>
<polyline points="970.5,194.8 970.5,240.4" stroke-width="2.40"/>
<polyline points="995.6,212.2 995.6,275.4" stroke-width="2.40"/>
<polyline points="995.6,275.4 1008,263 1020.5,250.6" stroke-width="1.70"/>
<polyline points="1020.5,250.6 1032.9,239.2 1045.8,227.8" stroke-width="1.77"/>
<polyline points="1060,281.2 1070.6,272.7" stroke-width="1.87"/>
<polyline points="1070.6,272.7 1072,272" stroke-width="2.15"/>
<polyline points="1072,272 1072,287" stroke-width="2.40"/>
<polyline points="1072,287 1083.5,279.8" stroke-width="2.03"/>
<polyline points="1083.5,279.8 1084.2,279.8 1084.2,296.9" stroke-width="2.40"/>
<polyline points="1109.8,277.7 1120.7,269.7" stroke-width="1.93"/>
<polyline points="1120.7,269.7 1133.2,262.5" stroke-width="2.08"/>
<polyline points="1133.2,262.5 1147.7,255.2" stroke-width="2.14"/>
<polyline points="1147.7,255.2 1160.7,250" stroke-width="2.23"/>
<polyline points="1160.7,250 1160.7,296.7" stroke-width="2.40"/>
<polyline points="1160.7,296.7 1173.2,290.4" stroke-width="2.14"/>
<polyline points="1173.2,290.4 1173.6,300.4" stroke-width="2.40"/>
<polyline points="1173.6,300.4 1185.4,295.4" stroke-width="2.21"/>
<polyline points="1185.4,295.4 1185.7,303.6" stroke-width="2.40"/>
<polyline points="1211.2,310.4 1211.2,346.2" stroke-width="2.40"/>
<polyline points="1211.2,346.2 1224.4,340.2" stroke-width="2.18"/>
<polyline points="1224.4,340.2 1236.8,336.1" stroke-width="2.28"/>
<polyline points="1236.8,336.1 1237.2,348.5" stroke-width="2.40"/>
<polyline points="1237.2,348.5 1247.2,343.3" stroke-width="2.13"/>
<polyline points="1247.2,343.3 1250,341.6" stroke-width="2.05"/>
<polyline points="1250,341.6 1266.6,334.3 1283.2,328.1" stroke-width="2.20"/>
<polyline points="1283.2,328.1 1299.7,323.9 1300.8,328.1 1312.2,326" stroke-width="2.33"/>
<polyline points="1312.2,326 1312.2,330.2" stroke-width="2.40"/>
<polyline points="1312.2,330.2 1323.6,326" stroke-width="2.25"/>
<polyline points="1323.6,326 1324.6,331.2" stroke-width="2.36"/>
<polyline points="1324.6,331.2 1337,327 1351.6,322.9 1363,318.8" stroke-width="2.27"/>
<polyline points="1363,318.8 1364,323.9 1374.4,321.9" stroke-width="2.36"/>
<polyline points="1374.4,321.9 1386.8,316.7" stroke-width="2.21"/>
<polyline points="1386.8,316.7 1387.8,328.1 1395,329.1 1400.1,328.8" stroke-width="2.39"/>
<polyline points="1400.1,328.8 1401.8,332.2" stroke-width="2.15"/>
<polyline points="1401.8,332.2 1413.6,329.7" stroke-width="2.35"/>
<polyline points="1413.6,329.7 1414.9,333.9 1426.2,330.5" stroke-width="2.29"/>
<polyline points="1426.2,330.5 1426.7,345.7 1438.8,343.2 1438.8,410.4 1450.9,408.2 1451.5,446.8 1463,445.7" stroke-width="2.40"/>
<polyline points="1463,445.7 1464,449" stroke-width="2.30"/>
<polyline points="1464,449 1477,448 1489.4,448.2 1491,460 1502,458 1502.7,462.7 1515,460.5" stroke-width="2.39"/>
</g>
<g stroke="#55c765" class="cv">
<polyline points="918.9,56 918.9,366.3" stroke-width="2.40"/>
<polyline points="918.9,366.3 925,345 932.3,322.6" stroke-width="2.31"/>
<polyline points="932.3,322.6 932.8,400.5" stroke-width="2.40"/>
<polyline points="932.8,400.5 945,370 957.9,338.3" stroke-width="2.23"/>
<polyline points="957.9,338.3 958.3,366.3" stroke-width="2.40"/>
<polyline points="958.3,366.3 970.7,347 983.2,328.4 995.6,307.7" stroke-width="2.02"/>
<polyline points="995.6,307.7 1008,293.2" stroke-width="1.82"/>
<polyline points="1008,293.2 1021.7,276.2" stroke-width="1.87"/>
<polyline points="1021.7,276.2 1021.7,296.5" stroke-width="2.40"/>
<polyline points="1021.7,296.5 1031.1,286.7" stroke-width="1.73"/>
<polyline points="1031.1,286.7 1041.5,277.3 1049.8,270.1" stroke-width="1.78"/>
<polyline points="1049.8,270.1 1057,264.9" stroke-width="1.95"/>
<polyline points="1057,264.9 1062.2,260.7 1067.4,256.6" stroke-width="1.87"/>
<polyline points="1067.4,256.6 1071.5,253" stroke-width="1.80"/>
<polyline points="1071.5,253 1071.5,288.5" stroke-width="2.40"/>
<polyline points="1084.9,294.5 1084.9,306.9 1088.4,306.2" stroke-width="2.40"/>
<polyline points="1088.4,306.2 1097.7,299.7" stroke-width="1.97"/>
<polyline points="1097.7,299.7 1097.7,334.6" stroke-width="2.40"/>
<polyline points="1097.7,334.6 1110,326.3" stroke-width="1.99"/>
<polyline points="1110,326.3 1122.8,319.5" stroke-width="2.12"/>
<polyline points="1122.8,319.5 1134.2,312.2" stroke-width="2.02"/>
<polyline points="1134.2,312.2 1134.2,321.6" stroke-width="2.40"/>
<polyline points="1134.2,321.6 1147.7,315.3 1160.1,309.1" stroke-width="2.17"/>
<polyline points="1160.1,309.1 1161.1,315.3" stroke-width="2.37"/>
<polyline points="1161.1,315.3 1173.2,310.8" stroke-width="2.25"/>
<polyline points="1173.2,310.8 1173.6,327.1" stroke-width="2.40"/>
<polyline points="1173.6,327.1 1186,321 1198.1,314.9" stroke-width="2.15"/>
<polyline points="1223,304.5 1224.8,303.6 1235,298.1" stroke-width="2.15"/>
<polyline points="1235,298.1 1248.2,294.6" stroke-width="2.32"/>
<polyline points="1248.2,294.6 1249.2,304 1260.4,303.3" stroke-width="2.39"/>
<polyline points="1260.4,303.3 1262.4,308.5 1273.8,304.3" stroke-width="2.24"/>
<polyline points="1273.8,304.3 1274.9,343.6" stroke-width="2.40"/>
<polyline points="1274.9,343.6 1291.5,338.4 1312.2,331.2 1313.2,335.3" stroke-width="2.29"/>
<polyline points="1313.2,335.3 1323.6,331.2" stroke-width="2.23"/>
<polyline points="1323.6,331.2 1324.6,336.4 1337,333.3" stroke-width="2.36"/>
<polyline points="1337,333.3 1341.2,336.4" stroke-width="1.93"/>
<polyline points="1341.2,336.4 1351.6,334.3" stroke-width="2.35"/>
<polyline points="1351.6,334.3 1352.6,337.4 1363,334.3 1374.4,331.2" stroke-width="2.28"/>
<polyline points="1374.4,331.2 1375.4,353 1386.8,350.9 1400.9,350.4 1401.8,369.3" stroke-width="2.40"/>
<polyline points="1401.8,369.3 1413.6,366.7" stroke-width="2.34"/>
<polyline points="1413.6,366.7 1413.9,385.4 1426.6,383.6 1427,400.8" stroke-width="2.40"/>
<polyline points="1427,400.8 1437.9,398.1" stroke-width="2.33"/>
<polyline points="1437.9,398.1 1438.3,443.5" stroke-width="2.40"/>
<polyline points="1438.3,443.5 1450.9,440.4" stroke-width="2.33"/>
<polyline points="1450.9,440.4 1464.2,440.4 1464.8,449.2 1477,447.5 1489.5,447.9 1490,457.8 1502.2,456 1502.2,467.7 1515,465.5" stroke-width="2.40"/>
</g>
<g stroke="#f6e13a" class="cv">
<polyline points="907.8,56 907.8,262 912.1,240" stroke-width="2.40"/>
<polyline points="912.1,240 919.9,209.8" stroke-width="2.32"/>
<polyline points="919.9,209.8 925,195.6" stroke-width="2.26"/>
<polyline points="925,195.6 932,181.3" stroke-width="2.16"/>
<polyline points="932,181.3 944.9,159.9" stroke-width="2.06"/>
<polyline points="944.9,159.9 957.7,145.7" stroke-width="1.78"/>
<polyline points="957.7,145.7 958.3,262" stroke-width="2.40"/>
<polyline points="958.3,262 970.7,242.3" stroke-width="2.03"/>
<polyline points="970.7,242.3 983.2,225.7" stroke-width="1.92"/>
<polyline points="983.2,225.7 995.6,211.2" stroke-width="1.82"/>
<polyline points="995.6,211.2 1008,199.8" stroke-width="1.77"/>
<polyline points="1008,199.8 1019.4,190.5" stroke-width="1.86"/>
<polyline points="1019.4,190.5 1032.9,181.1" stroke-width="1.97"/>
<polyline points="1032.9,181.1 1045.8,172.8" stroke-width="2.02"/>
<polyline points="1045.8,172.8 1046,227.1" stroke-width="2.40"/>
<polyline points="1046,227.1 1058.5,220" stroke-width="2.09"/>
<polyline points="1058.5,220 1058.5,298.3" stroke-width="2.40"/>
<polyline points="1058.5,298.3 1071.3,289.1" stroke-width="1.95"/>
<polyline points="1071.3,289.1 1072,303.3" stroke-width="2.40"/>
<polyline points="1072,303.3 1084,295.5 1097,287" stroke-width="2.01"/>
<polyline points="1097,287 1109.8,277.7" stroke-width="1.94"/>
<polyline points="1109.8,277.7 1109.8,303.3" stroke-width="2.40"/>
<polyline points="1109.8,303.3 1121.9,296.9" stroke-width="2.12"/>
<polyline points="1121.9,296.9 1121.9,327.8" stroke-width="2.40"/>
<polyline points="1121.9,327.8 1133,321.6 1147.7,314.3 1162.2,307 1173.2,301.3" stroke-width="2.10"/>
<polyline points="1173.2,301.3 1173.6,309" stroke-width="2.40"/>
<polyline points="1173.6,309 1185.4,304" stroke-width="2.21"/>
<polyline points="1185.4,304 1198.1,297.2" stroke-width="2.12"/>
<polyline points="1198.1,297.2 1198.1,314.9" stroke-width="2.40"/>
<polyline points="1198.1,314.9 1211.2,310.4" stroke-width="2.27"/>
<polyline points="1211.2,310.4 1223,304.5" stroke-width="2.15"/>
<polyline points="1223,304.5 1224.8,311.3" stroke-width="2.32"/>
<polyline points="1224.8,311.3 1235,307.2 1249.2,301.9" stroke-width="2.23"/>
<polyline points="1249.2,301.9 1260,296.7" stroke-width="2.16"/>
<polyline points="1260,296.7 1268.7,293.1" stroke-width="2.22"/>
<polyline points="1268.7,293.1 1287.3,287.3" stroke-width="2.29"/>
<polyline points="1287.3,287.3 1288.3,294.9" stroke-width="2.38"/>
<polyline points="1288.3,294.9 1303.9,289.7 1320.5,283.5 1337,277.7" stroke-width="2.28"/>
<polyline points="1337,277.7 1338.1,283.9" stroke-width="2.36"/>
<polyline points="1338.1,283.9 1349.5,280.4 1363,276.9" stroke-width="2.29"/>
<polyline points="1363,276.9 1364,289.3" stroke-width="2.39"/>
<polyline points="1364,289.3 1374.4,286.6" stroke-width="2.32"/>
<polyline points="1374.4,286.6 1376.4,291.4" stroke-width="2.22"/>
<polyline points="1376.4,291.4 1386.8,289.3 1387.8,296 1400.9,296.8 1401.8,311.2 1413.6,309.5 1413.9,340.6 1426.2,338.1 1426.7,345.7 1438.8,343.2 1438.8,350.7 1451,348.2 1451.5,396.2 1464.1,393.5 1464.1,435.8 1477.4,433.6 1477.4,460 1489.5,457.8 1490,471 1502.7,469.9 1515,469.9" stroke-width="2.35"/>
</g>
<line x1="882.5" y1="56" x2="1515.2" y2="676" class="dg"/>
<line x1="893.5" y1="545.7" x2="915" y2="545.7" stroke="#3f0a4e" class="lk"/>
<text x="927.1" y="552.6" class="lt">Logistic, PRAUC=0.5203</text>
<line x1="893.5" y1="572.5" x2="915" y2="572.5" stroke="#0b4f83" class="lk"/>
<text x="927.1" y="579.4" class="lt">RF, PRAUC=0.6002</text>
<line x1="893.5" y1="599.3" x2="915" y2="599.3" stroke="#0c8f8a" class="lk"/>
<text x="927.1" y="606.2" class="lt" textLength="138.0" lengthAdjust="spacingAndGlyphs">SVM, PRAUC=0.5853</text>
<line x1="893.5" y1="626.1" x2="915" y2="626.1" stroke="#55c765" class="lk"/>
<text x="927.1" y="633" class="lt" textLength="162.3" lengthAdjust="spacingAndGlyphs">Xgboost, PRAUC=0.5823</text>
<line x1="893.5" y1="652.9" x2="915" y2="652.9" stroke="#f6e13a" class="lk"/>
<text x="927.1" y="659.8" class="lt" textLength="164.2" lengthAdjust="spacingAndGlyphs">Stacking, PRAUC=0.6337</text>
<rect x="882.5" y="56" width="632.7" height="620" class="bd"/>
<line x1="882.5" y1="676" x2="882.5" y2="680.5" class="tk"/>
<line x1="878" y1="676" x2="882.5" y2="676" class="tk"/>
<text x="882.5" y="696.8" class="xl">0.00</text>
<text x="874" y="682.4" class="yl">0.00</text>
<line x1="1040.67" y1="676" x2="1040.67" y2="680.5" class="tk"/>
<line x1="878" y1="521" x2="882.5" y2="521" class="tk"/>
<text x="1040.67" y="696.8" class="xl">0.25</text>
<text x="874" y="527.4" class="yl">0.25</text>
<line x1="1198.85" y1="676" x2="1198.85" y2="680.5" class="tk"/>
<line x1="878" y1="366" x2="882.5" y2="366" class="tk"/>
<text x="1198.85" y="696.8" class="xl">0.50</text>
<text x="874" y="372.4" class="yl">0.50</text>
<line x1="1357.03" y1="676" x2="1357.03" y2="680.5" class="tk"/>
<line x1="878" y1="211" x2="882.5" y2="211" class="tk"/>
<text x="1357.03" y="696.8" class="xl">0.75</text>
<text x="874" y="217.4" class="yl">0.75</text>
<line x1="1515.2" y1="676" x2="1515.2" y2="680.5" class="tk"/>
<line x1="878" y1="56" x2="882.5" y2="56" class="tk"/>
<text x="1515.2" y="696.8" class="xl">1.00</text>
<text x="874" y="62.4" class="yl">1.00</text>
<text x="1198.85" y="716.5" class="at">recall</text>
<text transform="translate(840.6,366) rotate(-90)" x="0" y="0" class="at">precision</text>
<text x="881.5" y="44.7" class="ti" textLength="133.3" lengthAdjust="spacingAndGlyphs">PRs on testdata</text>
<text x="1202" y="764" class="pl">B</text>
<rect x="710.2" y="660" width="40" height="40" fill="#fff"/>
<rect x="1524.8" y="680" width="11" height="30" fill="#fff"/>
</svg>
</body></html>
